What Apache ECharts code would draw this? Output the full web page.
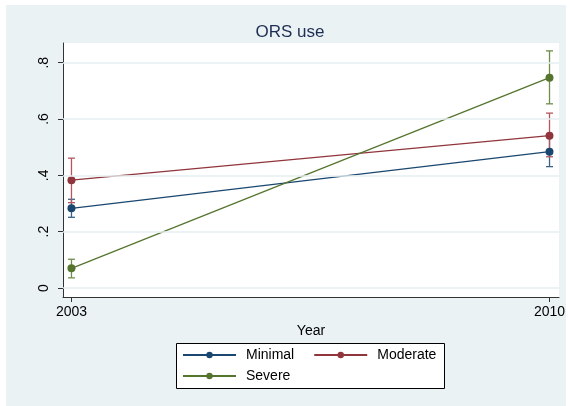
<!DOCTYPE html>
<html><head><meta charset="utf-8">
<script src="https://cdn.jsdelivr.net/npm/echarts@6/dist/echarts.min.js"></script>
<style>html,body{margin:0;padding:0;background:#fff}#c{width:571px;height:406px}</style>
</head><body><div id="c"></div>
<script>
const years = [2003, 2010];
const seriesNames = ['Minimal', 'Moderate', 'Severe'];
const minimal = [0.283, 0.484];
const minimalLo = [0.251, 0.431];
const minimalHi = [0.315, 0.537];
const moderate = [0.383, 0.541];
const moderateLo = [0.303, 0.466];
const moderateHi = [0.461, 0.621];
const severe = [0.070, 0.747];
const severeLo = [0.036, 0.654];
const severeHi = [0.102, 0.842];
const yTicks = [0, 0.2, 0.4, 0.6, 0.8];
const xTicks = [2003, 2010];

const colors = ['#1a476f', '#90353b', '#55752f'];
const ciColors = ['#3a6288', '#b5555d', '#6f8d4b'];
const FONT = 'Liberation Sans, Arial, sans-serif';

const chart = echarts.init(document.getElementById('c'), null, {renderer: 'canvas'});

function lineSeries(name, vals, i) {
  return {
    name: name, type: 'line', z: 4,
    data: years.map((y, k) => [y, vals[k]]),
    symbol: 'circle', symbolSize: 8,
    lineStyle: {color: colors[i], width: 1.3},
    itemStyle: {color: colors[i]},
    emphasis: {disabled: true}, animation: false
  };
}
function ciSeries(lo, hi, i) {
  return {
    type: 'custom', z: 3, animation: false, silent: true,
    data: years.map((y, k) => [y, lo[k], hi[k]]),
    renderItem: function (params, api) {
      const x = api.value(0);
      const pLo = api.coord([x, api.value(1)]);
      const pHi = api.coord([x, api.value(2)]);
      const hw = 3.5;
      const st = {stroke: ciColors[i], lineWidth: 1.3};
      return {type: 'group', children: [
        {type: 'line', shape: {x1: pLo[0], y1: pLo[1], x2: pHi[0], y2: pHi[1]}, style: st},
        {type: 'line', shape: {x1: pLo[0]-hw, y1: pLo[1], x2: pLo[0]+hw, y2: pLo[1]}, style: st},
        {type: 'line', shape: {x1: pHi[0]-hw, y1: pHi[1], x2: pHi[0]+hw, y2: pHi[1]}, style: st}
      ]};
    }
  };
}

const legendText = {fontSize: 14, color: '#000', fontFamily: FONT, padding: [0, 0, 0, 5]};

const option = {
  animation: false,
  backgroundColor: '#ffffff',
  textStyle: {fontFamily: FONT},
  graphic: [
    {type: 'rect', z: -10, shape: {x: 6, y: 5, width: 560, height: 401}, style: {fill: '#eaf2f3'}, silent: true},
    {type: 'rect', z: -9, shape: {x: 63, y: 43, width: 496, height: 254}, style: {fill: '#ffffff'}, silent: true},
    {type: 'rect', z: 1, shape: {x: 176.5, y: 343.5, width: 268, height: 45}, style: {fill: '#ffffff', stroke: '#000', lineWidth: 1}, silent: true},
    {type: 'text', z: 5, x: 290, y: 32, style: {text: 'ORS use', fill: '#1e2d53', font: '17px ' + FONT, textAlign: 'center', textVerticalAlign: 'middle'}}
  ],
  legend: [
    {data: ['Minimal', 'Moderate'], left: 182, top: 348, itemWidth: 53, itemHeight: 8, itemGap: 19,
     padding: 0, z: 5, textStyle: legendText, selectedMode: false},
    {data: ['Severe'], left: 182, top: 369, itemWidth: 53, itemHeight: 8, itemGap: 19,
     padding: 0, z: 5, textStyle: legendText, selectedMode: false}
  ],
  grid: {left: 63, right: 12, top: 43, bottom: 109, containLabel: false},
  xAxis: {
    type: 'value', min: 2002.876, max: 2010.139,
    name: 'Year', nameLocation: 'middle', nameGap: 27,
    nameTextStyle: {fontSize: 14, color: '#000', fontFamily: FONT},
    axisLine: {show: true, onZero: false, lineStyle: {color: '#333', width: 1}},
    axisTick: {show: true, customValues: xTicks, length: 5, lineStyle: {color: '#333'}},
    axisLabel: {customValues: xTicks, fontSize: 14, color: '#000', margin: 8, formatter: v => String(v)},
    splitLine: {show: false}
  },
  yAxis: {
    type: 'value', min: -0.032, max: 0.870,
    axisLine: {show: true, onZero: false, lineStyle: {color: '#333', width: 1}},
    axisTick: {show: true, customValues: yTicks, length: 5, lineStyle: {color: '#333'}},
    axisLabel: {customValues: yTicks, fontSize: 14, color: '#000', rotate: 90, margin: 12,
      formatter: v => (v === 0 ? '0' : String(Math.round(v * 10) / 10).replace(/^0/, ''))},
    splitLine: {show: false}
  },
  series: [
    {type: 'line', data: [], z: 1, silent: true,
     markLine: {silent: true, symbol: 'none', animation: false, label: {show: false},
       lineStyle: {color: '#e6eff1', width: 1.5, type: 'solid'},
       data: yTicks.map(v => ({yAxis: v}))}},
    ciSeries(minimalLo, minimalHi, 0),
    ciSeries(moderateLo, moderateHi, 1),
    ciSeries(severeLo, severeHi, 2),
    lineSeries(seriesNames[0], minimal, 0),
    lineSeries(seriesNames[1], moderate, 1),
    lineSeries(seriesNames[2], severe, 2)
  ]
};
chart.setOption(option);
</script></body></html>
